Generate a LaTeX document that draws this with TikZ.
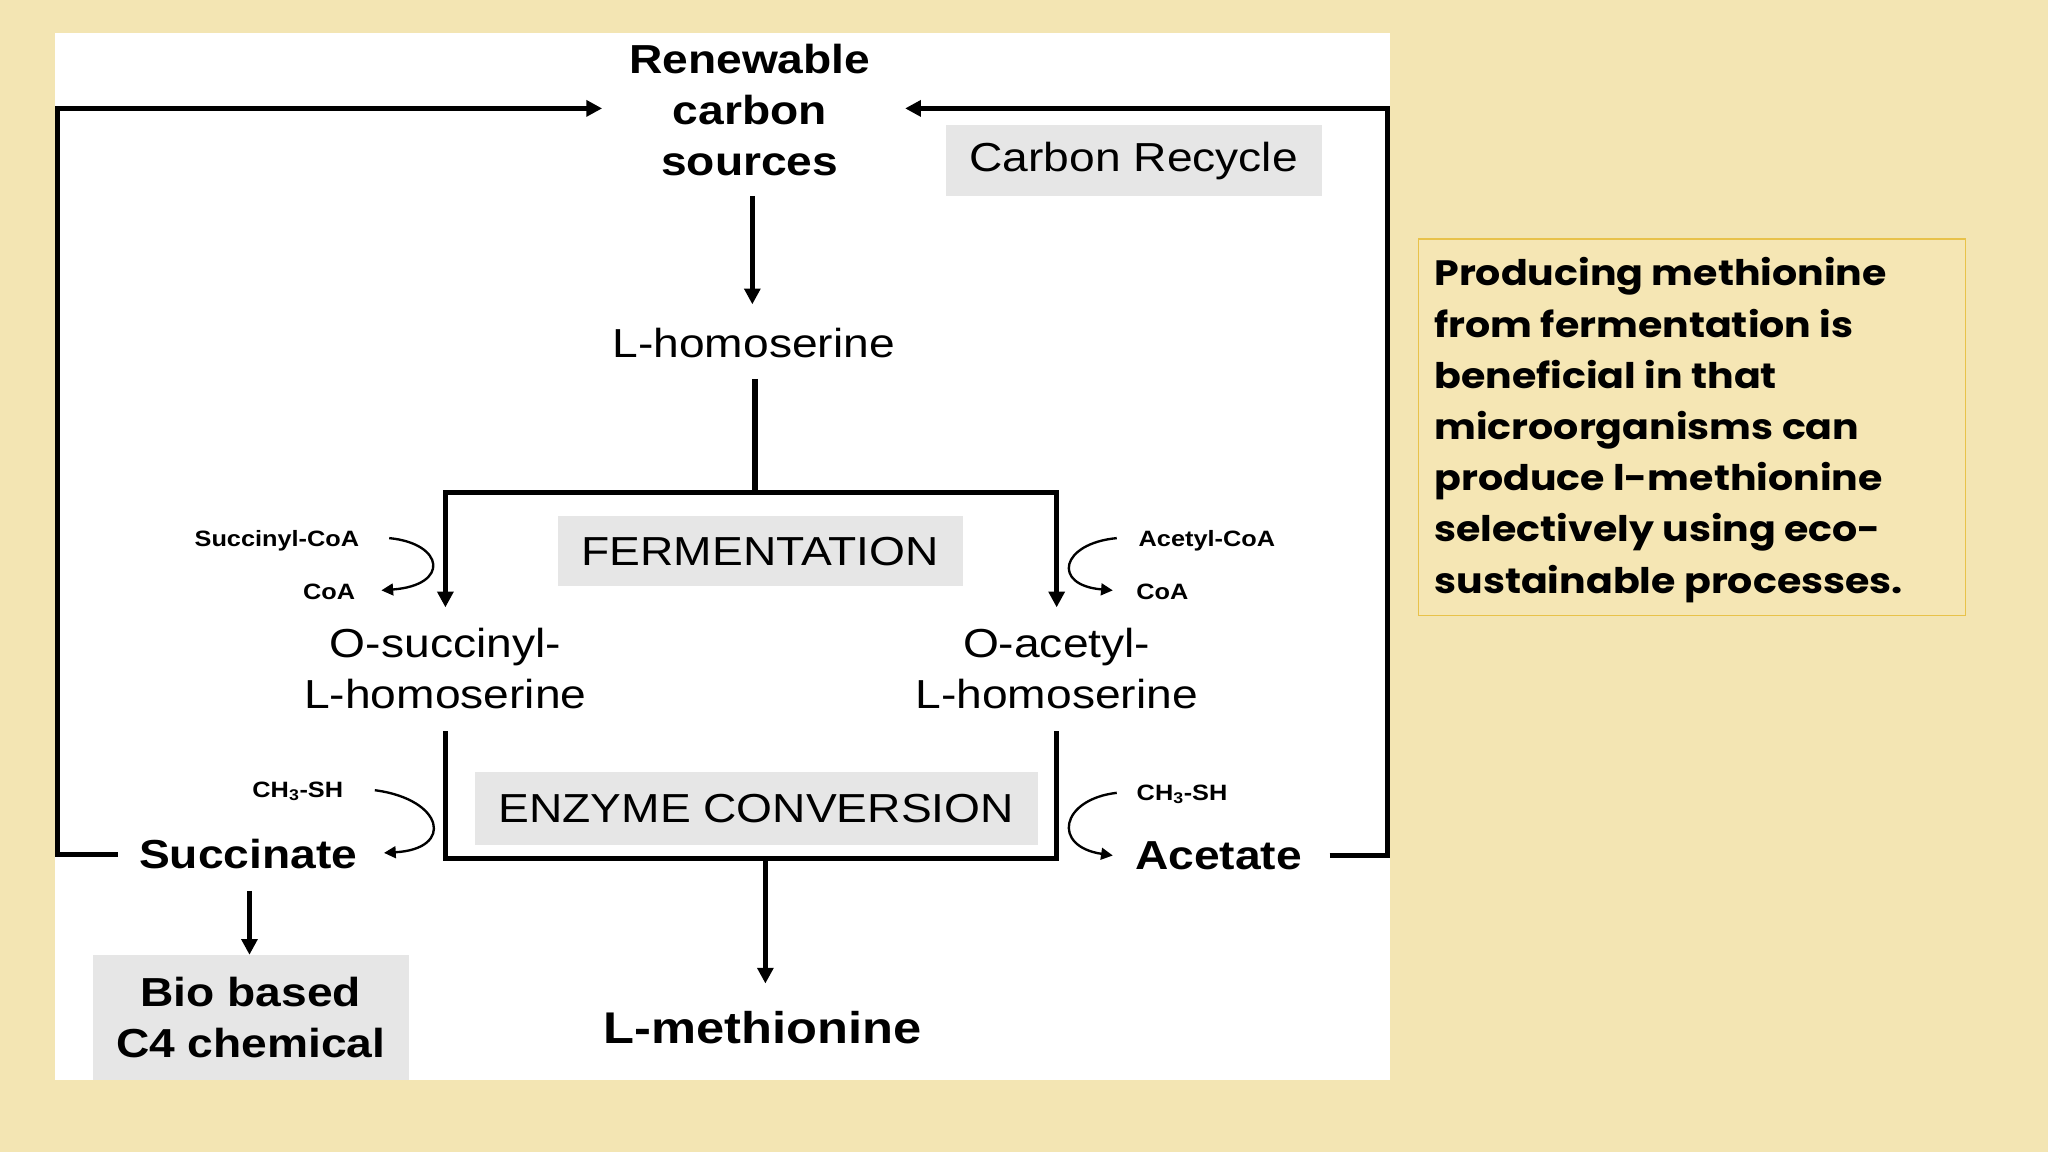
\documentclass[tikz,border=0pt]{standalone}
\usepackage{fontspec}
\setmainfont[FakeStretch=1.14]{Liberation Sans}
\newfontfamily\popp[FakeStretch=1.12]{Poppins}
\usetikzlibrary{arrows.meta}
\definecolor{bg}{HTML}{F3E5B3}
\definecolor{gbox}{HTML}{E6E6E6}
\definecolor{ybord}{HTML}{E8C24A}
\definecolor{yfill}{HTML}{F5E6B4}
\tikzset{
 ln/.style={line width=4pt,black},
 ar/.style={ln,-{Triangle[length=12pt,width=12pt]}},
 arr/.style={ln,{Triangle[length=12pt,width=12pt]}-{Triangle[length=12pt,width=12pt]}},
 thin/.style={line width=1.8pt,-{Triangle[length=9pt,width=9pt]}},
 big/.style={font=\fontsize{31}{39}\selectfont\bfseries,align=center,inner sep=0},
 med/.style={font=\fontsize{31}{39}\selectfont,align=center,inner sep=0},
 sm/.style={font=\fontsize{17}{20}\selectfont\bfseries,inner sep=0},
 gb/.style={fill=gbox,inner sep=0},
}
\begin{document}
\begin{tikzpicture}[x=1pt,y=-1pt]
\fill[bg] (0,0) rectangle (1568,882);
\useasboundingbox (0,0) rectangle (1568,882);
\fill[white] (42,25) rectangle (1064,827);
% gray boxes
\node[gb,minimum width=288,minimum height=54] (cr) at (868,123) {};
\node[med] at (cr) {Carbon Recycle};
\node[gb,minimum width=310,minimum height=54] (fer) at (582,422) {};
\node[med] at (fer) {FERMENTATION};
\node[gb,minimum width=431,minimum height=56] (enz) at (579,619) {};
\node[med] at (enz) {ENZYME CONVERSION};
\node[gb,minimum width=242,minimum height=95] (bio) at (192,779) {};
\node[big] at (bio) {Bio based\\C4 chemical};
% texts
\node[big] (ren) at (574,84) {Renewable\\carbon\\sources};
\node[med] (hom) at (577,263) {L-homoserine};
\node[med] (os) at (341,512) {O-succinyl-\\L-homoserine};
\node[med] (oa) at (809,512) {O-acetyl-\\L-homoserine};
\node[big,font=\fontsize{34}{39}\selectfont\bfseries] (met) at (584,787) {L-methionine};
\node[big] (suc) at (190,654) {Succinate};
\node[big] (ace) at (933,655) {Acetate};
\node[sm] (sco) at (212,414) {Succinyl-CoA};
\node[sm] (coa1) at (252,453) {CoA};
\node[sm] (aco) at (924,414) {Acetyl-CoA};
\node[sm] (coa2) at (890,453) {CoA};
\node[sm] (ch1) at (228,606) {CH\textsubscript{3}-SH};
\node[sm] (ch2) at (905,608) {CH\textsubscript{3}-SH};
% main arrows
\coordinate (t1) at (576,150); \coordinate (t2) at (576,233);
\draw[ar] (t1) -- (t2);
\coordinate (h1) at (578,290);
\draw[ln] (h1) -- (578,377);
\draw[arr] (341,465) -- (341,377) -- (809,377) -- (809,465);
\draw[ln] (341,560) -- (341,657) -- (809,657) -- (809,560);
\draw[ar] (586,657) -- (586,753);
\draw[ar] (191,682) -- (191,731);
% loops
\draw[ar] (90,654) -- (44,654) -- (44,83) -- (461,83);
\draw[ar] (1018,655) -- (1062,655) -- (1062,83) -- (693,83);
% side curves
\draw[thin] (298,412) .. controls (340,416) and (345,448) .. (292,452);
\draw[thin] (855,412) .. controls (812,416) and (805,448) .. (852,452);
\draw[thin] (287,605) .. controls (340,612) and (348,650) .. (294,653);
\draw[thin] (855,607) .. controls (812,612) and (805,648) .. (852,655);
% right box
\node[draw=ybord,line width=1pt,fill=yfill,minimum width=419,minimum height=288] (tb) at (1295.5,327) {};
\node[font=\popp\fontsize{27}{39.2}\selectfont\bfseries,align=left,anchor=north west,inner sep=0] at (1098,197) {Producing methionine\\from fermentation is\\beneficial in that\\microorganisms can\\produce l-methionine\\selectively using eco-\\sustainable processes.};
\end{tikzpicture}
\end{document}
